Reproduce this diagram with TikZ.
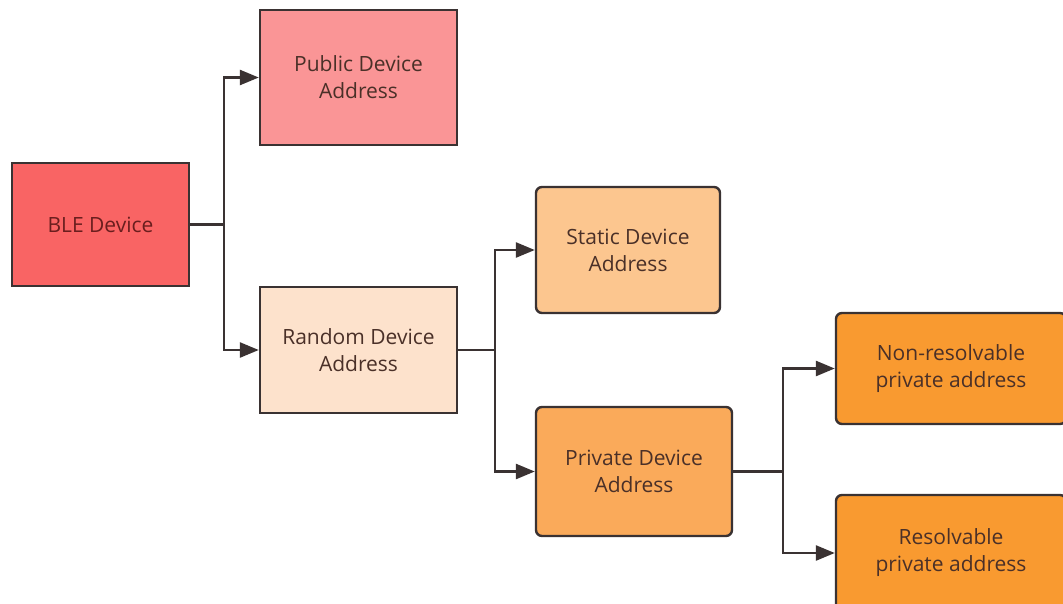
\documentclass[tikz,border=0pt]{standalone}
\usepackage{fontspec}
\setmainfont{Open Sans}
\usetikzlibrary{arrows.meta}
\definecolor{bleF}{HTML}{F96464}
\definecolor{pubF}{HTML}{FA9596}
\definecolor{rndF}{HTML}{FDE2CC}
\definecolor{staF}{HTML}{FCC68F}
\definecolor{priF}{HTML}{FAAA5A}
\definecolor{resF}{HTML}{F99A30}
\definecolor{edgeC}{HTML}{3A3232}
\definecolor{txtC}{HTML}{4A3028}
\definecolor{txtR}{HTML}{6A1E1E}
\tikzset{
  box/.style={draw=edgeC, line width=2.4pt, text=txtC, align=center, inner sep=0pt,
    font=\fontsize{21}{27}\selectfont},
  rbox/.style={box, rounded corners=6pt},
  conn/.style={draw=edgeC, line width=2.6pt},
  arr/.style={conn, -{Triangle[length=19pt,width=15pt]}}
}
\begin{document}
\begin{tikzpicture}[x=1pt,y=-1pt]
\useasboundingbox (0,0) rectangle (1063,603);
\clip (0,0) rectangle (1063,603);
\node[box, fill=bleF, text=txtR, minimum width=177pt, minimum height=123pt] (ble) at (100.5,224.5) {BLE Device};
\node[box, fill=pubF, minimum width=197pt, minimum height=135pt] (pub) at (358.5,77.5) {Public Device\\Address};
\node[box, fill=rndF, minimum width=197pt, minimum height=126pt] (rnd) at (358.5,350) {Random Device\\Address};
\node[rbox, fill=staF, minimum width=184pt, minimum height=126pt] (sta) at (628,250) {Static Device\\Address};
\node[rbox, fill=priF, minimum width=196pt, minimum height=129pt] (pri) at (634,471.5) {Private Device\\Address};
\node[rbox, fill=resF, minimum width=230pt, minimum height=111pt] (nres) at (951,368.5) {Non-resolvable\\private address};
\node[rbox, fill=resF, minimum width=230pt, minimum height=116pt] (res) at (951,553) {Resolvable\\private address};
\coordinate (j1) at (224,224.5);
\coordinate (j2) at (495,350);
\coordinate (j3) at (783,471.5);
\draw[conn] (ble.east) -- (j1);
\draw[arr] (j1) |- (pub.west);
\draw[arr] (j1) |- (rnd.west);
\draw[conn] (rnd.east) -- (j2);
\draw[arr] (j2) |- (sta.west);
\draw[arr] (j2) |- (pri.west);
\draw[conn] (pri.east) -- (j3);
\draw[arr] (j3) |- (nres.west);
\draw[arr] (j3) |- (res.west);
\end{tikzpicture}
\end{document}
